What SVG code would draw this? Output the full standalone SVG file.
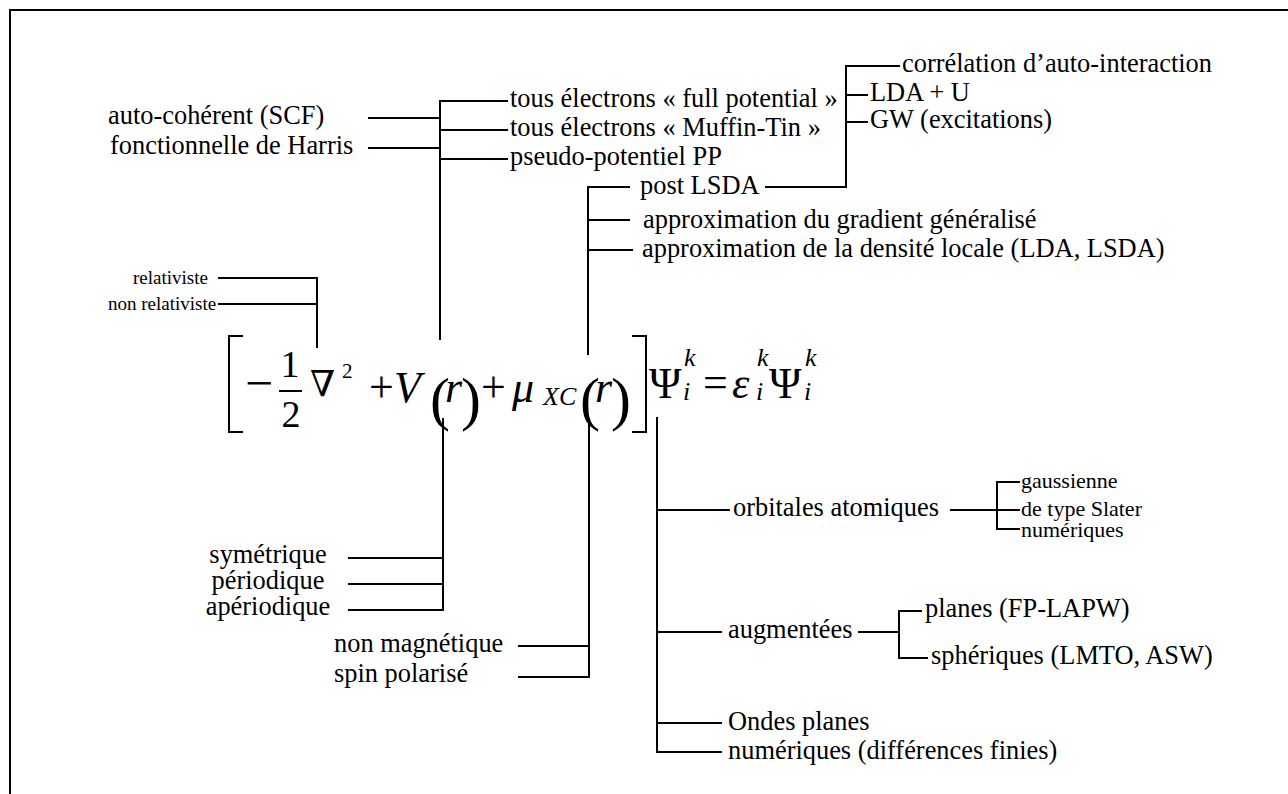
<svg xmlns="http://www.w3.org/2000/svg" width="1288" height="794" viewBox="0 0 1288 794">
<style>
text{font-family:"Liberation Serif","Times New Roman","DejaVu Serif",serif;fill:#000}
.t{font-size:26.4px}
.s{font-size:19px}
.r{font-size:22px}
.m{font-size:44px}
.mn{font-size:50px}
.nb{font-size:36px;font-family:"DejaVu Serif",serif}
.mi{font-size:44px;font-style:italic}
.p{font-size:60px}
.sub{font-size:26px;font-style:italic}
.sup2{font-size:21px}
.fr{font-size:38px}
line,path{stroke:#000;stroke-width:2;fill:none}
</style>
<rect width="1288" height="794" fill="#fff"/>
<path d="M10,794 V10 H1288"/>
<g id="connectors">
<line x1="218" y1="278" x2="318" y2="278"/>
<line x1="218" y1="304" x2="318" y2="304"/>
<line x1="317" y1="277" x2="317" y2="348"/>
<line x1="368" y1="118" x2="440" y2="118"/>
<line x1="368" y1="148" x2="440" y2="148"/>
<line x1="440" y1="100" x2="440" y2="340"/>
<line x1="439" y1="101" x2="508" y2="101"/>
<line x1="440" y1="130" x2="508" y2="130"/>
<line x1="440" y1="159" x2="508" y2="159"/>
<line x1="846" y1="66" x2="846" y2="188"/>
<line x1="845" y1="66" x2="900" y2="66"/>
<line x1="846" y1="95" x2="868" y2="95"/>
<line x1="846" y1="122" x2="868" y2="122"/>
<line x1="765" y1="187" x2="847" y2="187"/>
<line x1="588" y1="186" x2="588" y2="355"/>
<line x1="588" y1="187" x2="630" y2="187"/>
<line x1="588" y1="220" x2="630" y2="220"/>
<line x1="588" y1="250" x2="633" y2="250"/>
<line x1="443" y1="418" x2="443" y2="611"/>
<line x1="348" y1="558" x2="443" y2="558"/>
<line x1="348" y1="584" x2="443" y2="584"/>
<line x1="348" y1="610" x2="444" y2="610"/>
<line x1="589" y1="418" x2="589" y2="678"/>
<line x1="518" y1="646" x2="589" y2="646"/>
<line x1="518" y1="677" x2="590" y2="677"/>
<line x1="657" y1="417" x2="657" y2="753"/>
<line x1="657" y1="510" x2="730" y2="510"/>
<line x1="950" y1="510" x2="1020" y2="510"/>
<line x1="997" y1="481" x2="997" y2="530"/>
<line x1="996" y1="482" x2="1020" y2="482"/>
<line x1="996" y1="529" x2="1020" y2="529"/>
<line x1="657" y1="632" x2="722" y2="632"/>
<line x1="858" y1="632" x2="899" y2="632"/>
<line x1="899" y1="610" x2="899" y2="659"/>
<line x1="899" y1="611" x2="922" y2="611"/>
<line x1="899" y1="658" x2="928" y2="658"/>
<line x1="657" y1="723" x2="722" y2="723"/>
<line x1="656" y1="752" x2="722" y2="752"/>
</g>
<g id="equation">
<path d="M243,336 H229 V432 H243"/>
<path d="M632,336 H646 V432 H632"/>
<text class="mn" x="245" y="400">−</text>
<text class="fr" x="290" y="377" text-anchor="middle">1</text>
<line x1="279" y1="391" x2="302" y2="391"/>
<text class="fr" x="291" y="427" text-anchor="middle">2</text>
<text class="nb" x="310" y="396">∇</text>
<text class="sup2" x="342" y="378">2</text>
<text class="m" x="369" y="402">+</text>
<text class="mi" x="394" y="402">V</text>
<text class="p" x="430" y="419">(</text>
<text class="mi" x="445" y="402">r</text>
<text class="p" x="461" y="419">)</text>
<text class="m" x="481" y="402">+</text>
<text class="mi" x="512" y="402">μ</text>
<text class="sub" x="543" y="405">XC</text>
<text class="p" x="580" y="419">(</text>
<text class="mi" x="595" y="402">r</text>
<text class="p" x="611" y="419">)</text>
<text class="m" x="649" y="398">Ψ</text>
<text class="sub" x="684" y="366">k</text>
<text class="sub" x="683" y="400">i</text>
<text class="m" x="703" y="397">=</text>
<text class="mi" x="732" y="398">ε</text>
<text class="sub" x="757" y="366">k</text>
<text class="sub" x="756" y="400">i</text>
<text class="m" x="769" y="398">Ψ</text>
<text class="sub" x="805" y="366">k</text>
<text class="sub" x="804" y="400">i</text>
</g>
<g id="n-relativiste"><text class="s" x="133" y="284">relativiste</text></g>
<g id="n-nonrelativiste"><text class="s" x="108" y="310">non relativiste</text></g>
<g id="n-scf"><text class="t" x="108" y="124">auto-cohérent (SCF)</text></g>
<g id="n-harris"><text class="t" x="110" y="154">fonctionnelle de Harris</text></g>
<g id="n-fp"><text class="t" x="510" y="107">tous électrons « full potential »</text></g>
<g id="n-mt"><text class="t" x="510" y="136">tous électrons « Muffin-Tin »</text></g>
<g id="n-pp"><text class="t" x="510" y="165">pseudo-potentiel PP</text></g>
<g id="n-sic"><text class="t" x="902" y="72">corrélation d’auto-interaction</text></g>
<g id="n-ldau"><text class="t" x="870" y="101">LDA + U</text></g>
<g id="n-gw"><text class="t" x="870" y="128">GW (excitations)</text></g>
<g id="n-postlsda"><text class="t" x="640" y="194">post LSDA</text></g>
<g id="n-gga"><text class="t" x="643" y="228">approximation du gradient généralisé</text></g>
<g id="n-lda"><text class="t" x="642" y="257">approximation de la densité locale (LDA, LSDA)</text></g>
<g id="n-sym"><text class="t" x="268" y="563" text-anchor="middle">symétrique</text></g>
<g id="n-per"><text class="t" x="268" y="589" text-anchor="middle">périodique</text></g>
<g id="n-aper"><text class="t" x="268" y="615" text-anchor="middle">apériodique</text></g>
<g id="n-nonmag"><text class="t" x="334" y="652">non magnétique</text></g>
<g id="n-spin"><text class="t" x="334" y="682">spin polarisé</text></g>
<g id="n-orb"><text class="t" x="733" y="516">orbitales atomiques</text></g>
<g id="n-gauss"><text class="r" x="1021" y="488">gaussienne</text></g>
<g id="n-slater"><text class="r" x="1021" y="516">de type Slater</text></g>
<g id="n-num1"><text class="r" x="1021" y="537">numériques</text></g>
<g id="n-aug"><text class="t" x="728" y="638">augmentées</text></g>
<g id="n-planes"><text class="t" x="925" y="617">planes (FP-LAPW)</text></g>
<g id="n-spher"><text class="t" x="931" y="664">sphériques (LMTO, ASW)</text></g>
<g id="n-pw"><text class="t" x="728" y="730">Ondes planes</text></g>
<g id="n-fd"><text class="t" x="728" y="759">numériques (différences finies)</text></g>
</svg>
